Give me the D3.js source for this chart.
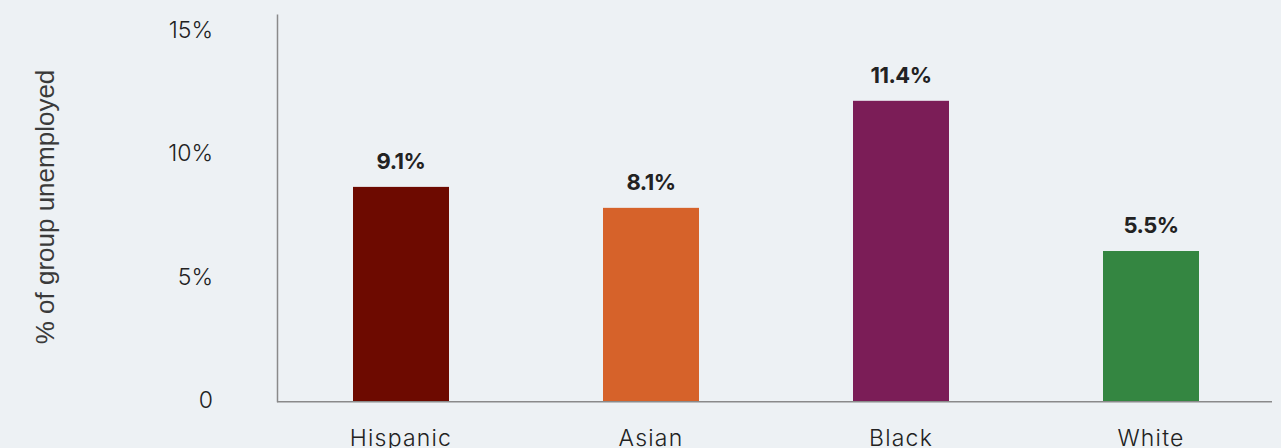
<html>
<head>
<script src="https://cdn.jsdelivr.net/npm/d3@7"></script>
<title>Unemployment by group</title>
<style>
  body { margin: 0; background: #edf1f4; }
  svg { display: block; }
</style>
</head>
<body>
<div id="chart"></div>
<script>
// groups on the x axis
var groups = ["Hispanic", "Asian", "Black", "White"];
// bar heights as drawn in the picture (%)
var barValues = [8.71, 7.86, 12.2, 6.11];
// printed value labels
var valueLabels = ["9.1%", "8.1%", "11.4%", "5.5%"];
var barColors = ["#6d0a00", "#d6622a", "#7b1d57", "#348641"];
// y ticks
var yTicks = [0, 5, 10, 15];
var yTickLabels = ["0", "5%", "10%", "15%"];

var width = 1281, height = 448;

var svg = d3.select("#chart")
  .append("svg")
  .attr("width", width)
  .attr("height", height);

svg.append("rect")
  .attr("width", width)
  .attr("height", height)
  .attr("fill", "#edf1f4");

// scales
var x = d3.scaleBand()
  .domain(groups)
  .range([276, 1276])
  .paddingInner(0.616)
  .paddingOuter(0.308);

var y = d3.scaleLinear()
  .domain([0, 15.72])
  .range([401.7, 14]);

// y axis line + labels
var yAxis = d3.axisLeft(y)
  .tickValues(yTicks)
  .tickSize(0)
  .tickPadding(64)
  .tickFormat(function(d, i) { return yTickLabels[i]; });

var gy = svg.append("g")
  .attr("transform", "translate(277,0)")
  .call(yAxis);
gy.select(".domain").attr("stroke", "#8a8a8a").attr("stroke-width", 1.5);
gy.selectAll("text")
  .attr("font-family", "Inter, sans-serif")
  .attr("font-weight", 300)
  .attr("font-size", 23)
  .attr("fill", "#222")
  .attr("dy", "0.25em");

// bars
svg.selectAll(".bar")
  .data(barValues)
  .enter()
  .append("rect")
  .attr("class", "bar")
  .attr("x", function(d, i) { return x(groups[i]); })
  .attr("y", function(d) { return y(d); })
  .attr("width", x.bandwidth())
  .attr("height", function(d) { return y(0) - y(d); })
  .attr("fill", function(d, i) { return barColors[i]; });

// x axis (drawn after bars so the line sits on top)
var xAxis = d3.axisBottom(x).tickSize(0).tickPadding(28);
var gx = svg.append("g")
  .attr("transform", "translate(0," + y(0) + ")")
  .call(xAxis);
gx.select(".domain")
  .attr("d", "M1,0H996")
  .attr("transform", "translate(276,0)")
  .attr("stroke", "#8a8a8a")
  .attr("stroke-width", 1.5);
gx.selectAll("text")
  .attr("font-family", "Inter, sans-serif")
  .attr("font-weight", 300)
  .attr("font-size", 23)
  .attr("letter-spacing", "1.2px")
  .attr("fill", "#222");

// value labels above bars
svg.selectAll(".val")
  .data(barValues)
  .enter()
  .append("text")
  .attr("class", "val")
  .attr("x", function(d, i) { return x(groups[i]) + x.bandwidth() / 2; })
  .attr("y", function(d) { return y(d) - 18; })
  .attr("text-anchor", "middle")
  .attr("font-family", "Inter, sans-serif")
  .attr("font-weight", 700)
  .attr("font-size", 22)
  .attr("letter-spacing", "-0.5px")
  .attr("fill", "#222")
  .text(function(d, i) { return valueLabels[i]; });

// y axis title
svg.append("text")
  .attr("transform", "translate(54,207) rotate(-90)")
  .attr("text-anchor", "middle")
  .attr("font-family", "Liberation Sans, Arial, sans-serif")
  .attr("font-size", 26)
  .attr("fill", "#3a3a3a")
  .text("% of group unemployed");
</script>
</body>
</html>
